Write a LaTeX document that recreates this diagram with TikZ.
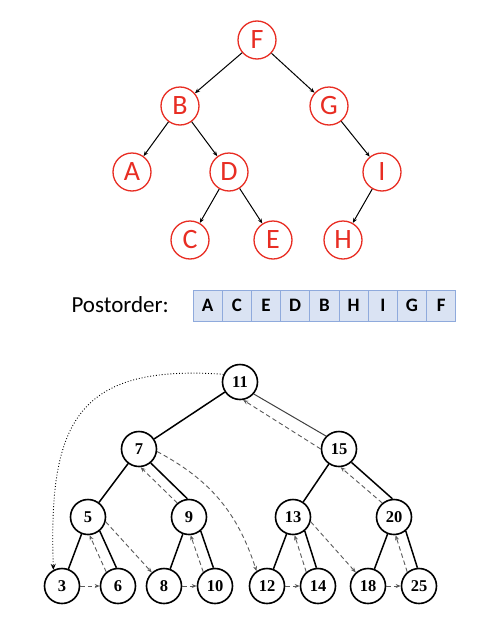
\documentclass[tikz,border=0pt]{standalone}
\usepackage{fontspec}
\setmainfont{Liberation Serif}
\newfontfamily\calfont{Carlito}
\usetikzlibrary{arrows.meta}
\definecolor{redc}{RGB}{232,45,35}
\definecolor{boxfill}{RGB}{218,227,243}
\definecolor{boxline}{RGB}{143,170,220}
\definecolor{thrc}{RGB}{90,90,90}
\begin{document}
\begin{tikzpicture}[x=1pt,y=-1pt,
  rn/.style={circle, draw=redc, line width=1.3pt, fill=white, minimum size=38pt, inner sep=0pt,
    font=\calfont\fontsize{28}{28}\selectfont, text=redc},
  tarr/.style={-{Stealth[length=5pt,width=4pt]}, line width=1pt},
  bn/.style={circle, draw, line width=1.6pt, fill=white, minimum size=35pt, inner sep=0pt,
    font=\bfseries\fontsize{16.5}{16.5}\selectfont},
  tedge/.style={line width=1.5pt},
  thr/.style={thrc, line width=0.9pt, dash pattern=on 4.5pt off 3pt, -{Stealth[length=5pt,width=4pt]}},
  cell/.style={draw=boxline, fill=boxfill, minimum width=29.2pt, minimum height=31pt, inner sep=0pt,
    font=\calfont\bfseries\fontsize{19}{19}\selectfont, line width=0.8pt}]
\useasboundingbox (0,0) rectangle (498,632);

% top tree
\node[rn] (F) at (257,40) {F};
\node[rn] (B) at (180,106) {B};
\node[rn] (G) at (329,106) {G};
\node[rn] (A) at (132,172) {A};
\node[rn] (D) at (229,172) {D};
\node[rn] (I) at (382,172) {I};
\node[rn] (C) at (190,240) {C};
\node[rn] (E) at (273,240) {E};
\node[rn] (H) at (343,240) {H};
\draw[tarr] (F) -- (B);
\draw[tarr] (F) -- (G);
\draw[tarr] (B) -- (A);
\draw[tarr] (B) -- (D);
\draw[tarr] (D) -- (C);
\draw[tarr] (D) -- (E);
\draw[tarr] (G) -- (I);
\draw[tarr] (I) -- (H);

% postorder
\node[font=\calfont\fontsize{23}{23}\selectfont, anchor=west] (lbl) at (68,305) {Postorder:};
\foreach \l [count=\i from 0] in {A,C,E,D,B,H,I,G,F}{
  \node[cell] (c\i) at ({193+14.6+29.2*\i},305.5) {\l};
}

% bottom tree
\node[bn] (b11) at (240,382) {11};
\node[bn] (b7) at (139,449) {7};
\node[bn] (b15) at (339,449) {15};
\node[bn] (b5) at (88,517) {5};
\node[bn] (b9) at (189,517) {9};
\node[bn] (b13) at (293,517) {13};
\node[bn] (b20) at (394,517) {20};
\node[bn] (b3) at (62,586) {3};
\node[bn] (b6) at (118,586) {6};
\node[bn] (b8) at (164,586) {8};
\node[bn] (b10) at (215,586) {10};
\node[bn] (b12) at (267,586) {12};
\node[bn] (b14) at (318,586) {14};
\node[bn] (b18) at (368,586) {18};
\node[bn] (b25) at (419,586) {25};

% solid tree edges
\draw[tedge] (b11) -- (b7);
\draw[line width=1pt, black!75] (b11.-41) -- (b15.135);
\draw[tedge] (b7) -- (b5);
\draw[tedge] (b7.-50) -- (b9.95);
\draw[tedge] (b15) -- (b13);
\draw[tedge] (b15.-47) -- (b20.95);
\draw[tedge] (b5) -- (b3);
\draw[tedge] (b5.-50) -- (b6.95);
\draw[tedge] (b9) -- (b8);
\draw[tedge] (b9.-50) -- (b10.95);
\draw[tedge] (b13) -- (b12);
\draw[tedge] (b13.-50) -- (b14.95);
\draw[tedge] (b20) -- (b18);
\draw[tedge] (b20.-50) -- (b25.95);

% postorder threads
\draw[line width=0.9pt, dotted, -{Stealth[length=6pt,width=5pt]}] (b11.155) to[out=176,in=92,looseness=1.45] (b3.118);
\draw[thr] (b3) -- (b6);
\draw[thr] (b6.130) -- (b5.-85);
\draw[thr] (b5.-15) -- (b8.132);
\draw[thr] (b8) -- (b10);
\draw[thr] (b10.130) -- (b9.-85);
\draw[thr] (b9.130) -- (b7.-85);
\draw[thr] (b7.-8) to[out=-28,in=108] (b12.125);
\draw[thr] (b12) -- (b14);
\draw[thr] (b14.130) -- (b13.-85);
\draw[thr] (b13.-15) -- (b18.132);
\draw[thr] (b18) -- (b25);
\draw[thr] (b25.130) -- (b20.-85);
\draw[thr] (b20.130) -- (b15.-85);
\draw[thr] (b15.180) -- (b11.-80);
\end{tikzpicture}
\end{document}
